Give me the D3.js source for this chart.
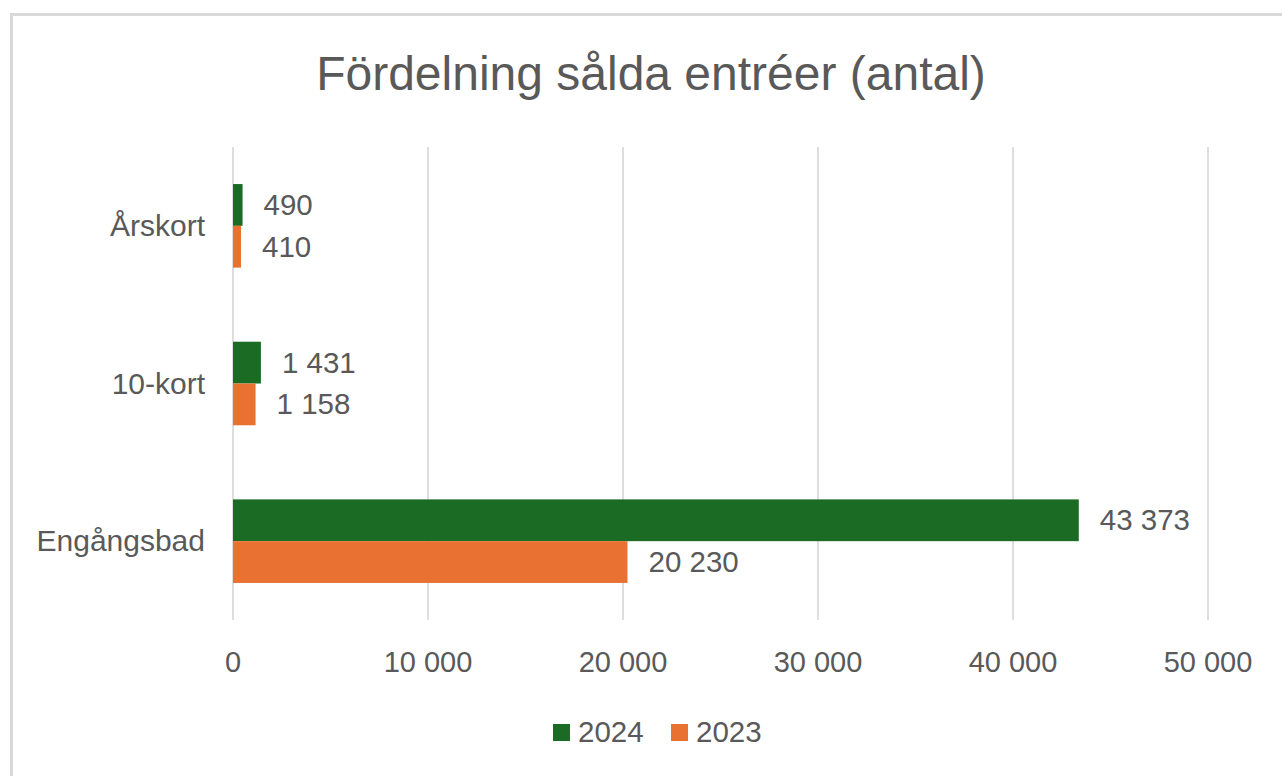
<!DOCTYPE html>
<html>
<head>
<meta charset="utf-8">
<script src="https://cdn.jsdelivr.net/npm/d3@7"></script>
<style>
  body { margin: 0; background: #fff; }
  text { font-family: "Liberation Sans", Arial, sans-serif; fill: #595959; }
</style>
</head>
<body>
<div id="chart"></div>
<script>
// data
const categories = ["Årskort", "10-kort", "Engångsbad"]
const seriesNames = ["2024", "2023"]
const values2024 = [490, 1431, 43373]
const values2023 = [410, 1158, 20230]
const xTicks = [0, 10000, 20000, 30000, 40000, 50000]
const colors = { "2024": "#1b6b24", "2023": "#e97132" }

buildChart()

function buildChart() {
    const W = 1282, H = 776
    const plot = { left: 233, right: 1208, top: 147, bottom: 620 }

    let svg = d3.select("#chart").append("svg")
                .attr("width", W)
                .attr("height", H)

    // chart border
    svg.append("rect")
        .attr("x", 11.5).attr("y", 14.5)
        .attr("width", 1300).attr("height", 800)
        .attr("fill", "none")
        .attr("stroke", "#d9d9d9")
        .attr("stroke-width", 3)

    // title
    svg.append("text")
        .attr("x", 651).attr("y", 90)
        .attr("text-anchor", "middle")
        .style("font-size", "48px")
        .text("Fördelning sålda entréer (antal)")

    let x = d3.scaleLinear().domain([0, 50000]).range([plot.left, plot.right])
    let y = d3.scaleBand().domain(categories).range([plot.top, plot.bottom])
                .paddingInner(0.47).paddingOuter(0.235)
    let ySub = d3.scaleBand().domain(seriesNames).range([0, y.bandwidth()])

    let fmt = v => d3.format(",")(v).replace(/,/g, " ")

    // gridlines
    svg.append("g").selectAll("line")
        .data(xTicks)
        .enter().append("line")
            .attr("x1", d => x(d)).attr("x2", d => x(d))
            .attr("y1", plot.top).attr("y2", plot.bottom)
            .attr("stroke", "#dedede")
            .attr("stroke-width", 2)

    // x tick labels
    svg.append("g").selectAll("text")
        .data(xTicks)
        .enter().append("text")
            .attr("x", d => x(d))
            .attr("y", 672)
            .attr("text-anchor", "middle")
            .style("font-size", "29px")
            .text(d => fmt(d))

    // category labels
    svg.append("g").selectAll("text")
        .data(categories)
        .enter().append("text")
            .attr("x", 205)
            .attr("y", d => y(d) + y.bandwidth() / 2 + 10)
            .attr("text-anchor", "end")
            .style("font-size", "30px")
            .text(d => d)

    let rows = []
    categories.forEach((c, i) => {
        rows.push({ cat: c, series: "2024", value: values2024[i] })
        rows.push({ cat: c, series: "2023", value: values2023[i] })
    })

    // bars
    svg.append("g").selectAll("rect")
        .data(rows)
        .enter().append("rect")
            .attr("x", x(0))
            .attr("y", d => y(d.cat) + ySub(d.series))
            .attr("width", d => x(d.value) - x(0))
            .attr("height", ySub.bandwidth())
            .attr("fill", d => colors[d.series])

    // value labels
    svg.append("g").selectAll("text")
        .data(rows)
        .enter().append("text")
            .attr("x", d => x(d.value) + 21)
            .attr("y", d => y(d.cat) + ySub(d.series) + ySub.bandwidth() / 2 + 10)
            .style("font-size", "29.5px")
            .text(d => fmt(d.value))

    // legend
    let legend = svg.append("g")
    let legendX = [553, 671]
    seriesNames.forEach((s, i) => {
        legend.append("rect")
            .attr("x", legendX[i]).attr("y", 724)
            .attr("width", 17).attr("height", 17)
            .attr("fill", colors[s])
        legend.append("text")
            .attr("x", legendX[i] + 25).attr("y", 742)
            .style("font-size", "29.5px")
            .text(s)
    })
}
</script>
</body>
</html>
